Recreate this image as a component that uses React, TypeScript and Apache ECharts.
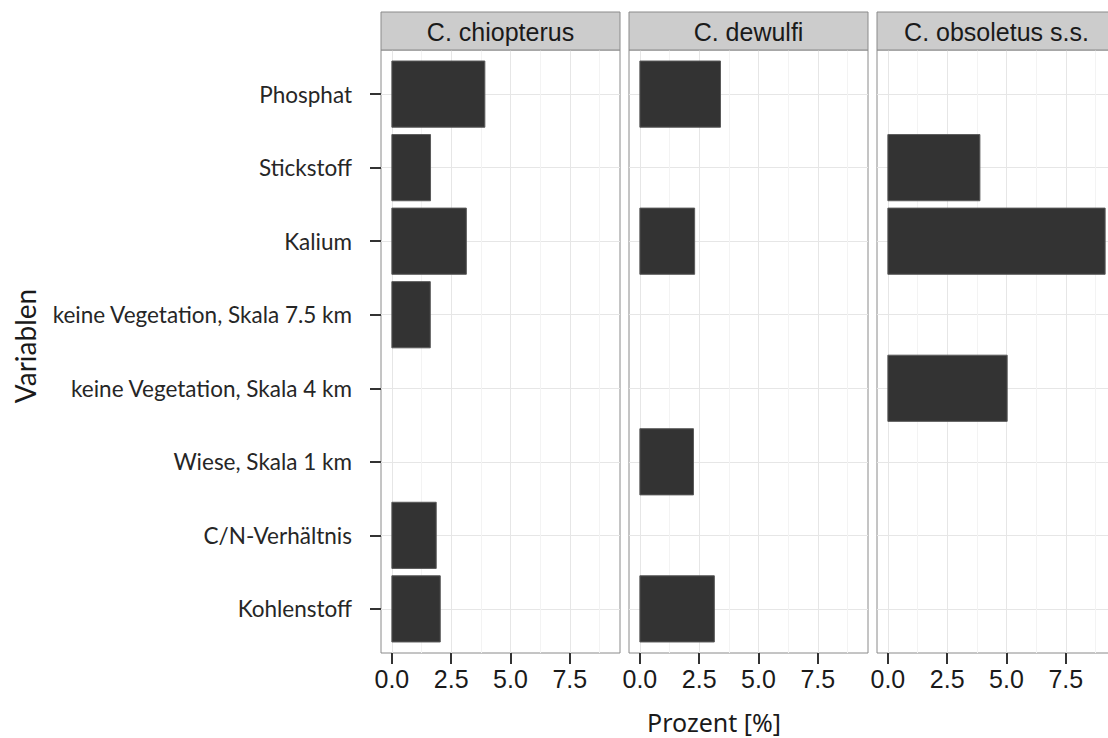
import React, { useEffect, useRef } from "react";
import * as echarts from "echarts";

const categories = [
  "Phosphat",
  "Stickstoff",
  "Kalium",
  "keine Vegetation, Skala 7.5 km",
  "keine Vegetation, Skala 4 km",
  "Wiese, Skala 1 km",
  "C/N-Verhältnis",
  "Kohlenstoff",
];

const panelTitles = ["C. chiopterus", "C. dewulfi", "C. obsoletus s.s."];

const chiopterus = [3.92, 1.63, 3.14, 1.62, null, null, 1.87, 2.04];
const dewulfi = [3.4, null, 2.31, null, null, 2.26, null, 3.14];
const obsoletus = [null, 3.88, 9.16, null, 5.03, null, null, null];

const panelValues = [chiopterus, dewulfi, obsoletus];

const xTicks = [0, 2.5, 5, 7.5];
const xMinorTicks = [1.25, 3.75, 6.25, 8.75];
const xLabel = "Prozent [%]";
const yLabel = "Variablen";

export default function App() {
  const ref = useRef<HTMLDivElement>(null);

  useEffect(() => {
    if (!ref.current) return;
    const chart = echarts.init(ref.current, null, { renderer: "svg" });

    const dataMax = Math.max(...(panelValues.flat().filter((v) => v != null) as number[]));
    const pad = dataMax * 0.05;
    const xMin = -pad;
    const xMax = dataMax + pad;
    const catIdx = categories.map((_, i) => i);

    const panelLeft = 381;
    const panelWidth = 239;
    const panelGap = 9;
    const panelTop = 50;
    const panelHeight = 603;
    const stripTop = 12;
    const stripH = 38;

    const grids: any[] = [];
    const xAxes: any[] = [];
    const yAxes: any[] = [];
    const series: any[] = [];
    const graphics: any[] = [];

    panelValues.forEach((vals, p) => {
      const left = panelLeft + p * (panelWidth + panelGap);
      grids.push({
        left,
        top: panelTop,
        width: panelWidth,
        height: panelHeight,
        show: true,
        backgroundColor: "#ffffff",
        borderColor: "#8a8a8a",
        borderWidth: 1,
        containLabel: false,
        outerBoundsMode: "none",
      });
      // major x axis
      xAxes.push({
        type: "value",
        gridIndex: p,
        position: "bottom",
        min: xMin,
        max: xMax,
        axisLine: { show: false, onZero: false },
        axisTick: {
          show: true,
          customValues: xTicks,
          length: 11,
          lineStyle: { color: "#333333", width: 2 },
        },
        axisLabel: {
          show: true,
          customValues: xTicks,
          margin: 13,
          formatter: (v: number) => v.toFixed(1),
          fontFamily: "Liberation Sans",
          fontSize: 25,
          color: "#1a1a1a",
        },
        splitLine: { show: true, lineStyle: { color: "#e6e6e6", width: 1 } },
      });
      // minor x axis (grid lines only)
      xAxes.push({
        type: "value",
        gridIndex: p,
        position: "bottom",
        min: xMin,
        max: xMax,
        axisLine: { show: false, onZero: false },
        axisTick: { show: false, customValues: xMinorTicks },
        axisLabel: { show: false, customValues: xMinorTicks },
        splitLine: { show: true, lineStyle: { color: "#f3f3f3", width: 1 } },
      });
      yAxes.push({
        type: "value",
        gridIndex: p,
        position: "left",
        inverse: true,
        min: -0.6,
        max: categories.length - 1 + 0.6,
        axisLine: { show: false, onZero: false },
        axisTick: {
          show: p === 0,
          customValues: catIdx,
          length: 11,
          lineStyle: { color: "#333333", width: 2 },
        },
        axisLabel: {
          show: p === 0,
          customValues: catIdx,
          margin: 29,
          formatter: (v: number) => categories[Math.round(v)] ?? "",
          fontFamily: "Lato",
          fontSize: 22.5,
          color: "#262626",
        },
        splitLine: { show: true, lineStyle: { color: "#e6e6e6", width: 1 } },
      });
      const data = vals
        .map((v, i) => (v == null ? null : [v, i]))
        .filter((d) => d != null);
      series.push({
        type: "custom",
        xAxisIndex: p * 2,
        yAxisIndex: p,
        data,
        encode: { x: 0, y: 1 },
        renderItem: (params: any, api: any) => {
          const v = api.value(0);
          const idx = api.value(1);
          const start = api.coord([0, idx]);
          const end = api.coord([v, idx]);
          const h = api.size([0, 0.9])[1];
          return {
            type: "rect",
            shape: {
              x: start[0],
              y: start[1] - h / 2,
              width: end[0] - start[0],
              height: h,
            },
            style: { fill: "#333333", stroke: "#5a5a5a", lineWidth: 1 },
          };
        },
      });
      graphics.push({
        type: "rect",
        shape: { x: left, y: stripTop, width: panelWidth, height: stripH },
        style: { fill: "#cccccc", stroke: "#8a8a8a", lineWidth: 1 },
        z: 10,
      });
      graphics.push({
        type: "text",
        x: left + panelWidth / 2,
        y: stripTop + stripH / 2 + 1,
        style: {
          text: panelTitles[p],
          align: "center",
          verticalAlign: "middle",
          fontFamily: "Liberation Sans",
          fontSize: 25,
          fill: "#1a1a1a",
        },
        z: 11,
      });
    });

    graphics.push({
      type: "text",
      x: 714,
      y: 722,
      style: {
        text: xLabel,
        align: "center",
        verticalAlign: "middle",
        fontFamily: "Noto Sans",
        fontSize: 25,
        fill: "#1a1a1a",
      },
    });
    graphics.push({
      type: "text",
      x: 25,
      y: 346,
      rotation: Math.PI / 2,
      style: {
        text: yLabel,
        align: "center",
        verticalAlign: "middle",
        fontFamily: "Lato",
        fontSize: 28,
        fill: "#1a1a1a",
      },
    });

    chart.setOption({
      animation: false,
      backgroundColor: "#ffffff",
      grid: grids,
      xAxis: xAxes,
      yAxis: yAxes,
      series,
      graphic: graphics,
    });

    return () => chart.dispose();
  }, []);

  return (
    <div
      ref={ref}
      style={{ position: "absolute", left: 0, top: 0, width: 1108, height: 738 }}
    />
  );
}
